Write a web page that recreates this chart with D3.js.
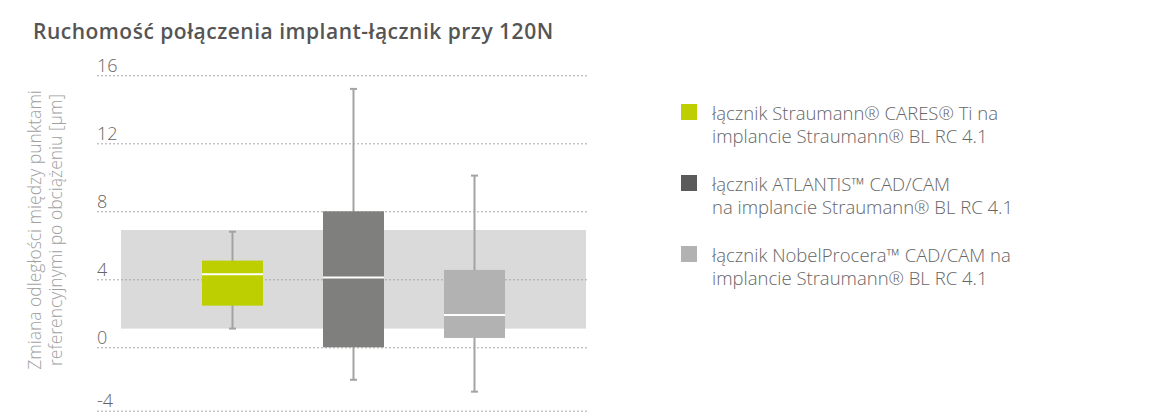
<!DOCTYPE html>
<html>
<head>
<meta charset="utf-8">
<script src="https://cdn.jsdelivr.net/npm/d3@7"></script>
<style>
  body { margin: 0; background: #fff; }
  text { font-family: "Open Sans", sans-serif; }
</style>
</head>
<body>
<div id="chart"></div>
<script>
// data
var categories = ['CARES', 'ATLANTIS', 'NobelProcera'];
var whiskerLow = [1.1, -2.05, -2.8];
var q1 = [2.45, 0, 0.55];
var median = [4.3, 4.1, 1.9];
var q3 = [5.1, 8.0, 4.55];
var whiskerHigh = [6.8, 15.2, 10.1];
var refBand = [1.1, 6.9];
var yTicks = [-4, 0, 4, 8, 12, 16];

var boxColors = ['#bdcf00', '#7f7f7e', '#b2b2b2'];
var legendColors = ['#bdcf00', '#5b5b5b', '#b2b2b2'];
var legendLines = [
    ['łącznik Straumann® CARES® Ti na', 'implancie Straumann® BL RC 4.1'],
    ['łącznik ATLANTIS™ CAD/CAM', 'na implancie Straumann® BL RC 4.1'],
    ['łącznik NobelProcera™ CAD/CAM na', 'implancie Straumann® BL RC 4.1']
];

var width_svg = 1176;
var height_svg = 416;

var svg = d3.select('#chart')
    .append('svg')
    .attr('width', width_svg)
    .attr('height', height_svg);

// scales
var y = d3.scaleLinear()
    .domain([-4, 0, 16])
    .range([410.7, 347.3, 75.3]);

var x = d3.scalePoint()
    .domain(categories)
    .range([232.5, 474.5]);

var gridLeft = 97, gridRight = 587;
var bandLeft = 121, bandRight = 586;
var boxWidth = 61;

// title
svg.append('text')
    .attr('x', 33)
    .attr('y', 39)
    .text('Ruchomość połączenia implant-łącznik przy 120N')
    .style('font-size', '21px')
    .style('letter-spacing', '0.5px')
    .style('font-weight', 600)
    .style('fill', '#555');

// y axis title
var yTitle = svg.append('text')
    .attr('transform', 'translate(41, 230) rotate(-90)')
    .attr('text-anchor', 'middle')
    .style('font-size', '17.5px')
    .style('font-weight', 300)
    .style('fill', '#a0a0a0');
yTitle.append('tspan').attr('x', 0).attr('y', 0).text('Zmiana odległości między punktami');
yTitle.append('tspan').attr('x', 0).attr('y', 21).text('referencyjnymi po obciążeniu [µm]');

// reference band
svg.append('rect')
    .attr('x', bandLeft)
    .attr('y', y(refBand[1]))
    .attr('width', bandRight - bandLeft)
    .attr('height', y(refBand[0]) - y(refBand[1]))
    .style('fill', '#dadada');

// gridlines + tick labels
var axis = d3.axisLeft(y)
    .tickValues(yTicks)
    .tickSize(-(gridRight - gridLeft))
    .tickFormat(d => String(d));

var gAxis = svg.append('g')
    .attr('transform', 'translate(' + gridLeft + ',0)')
    .call(axis);

gAxis.select('.domain').remove();
gAxis.selectAll('.tick line')
    .attr('stroke', '#a8a8a8')
    .attr('stroke-width', 1)
    .attr('stroke-dasharray', '2,2');
gAxis.selectAll('.tick text')
    .attr('x', 0)
    .attr('dy', -4)
    .attr('text-anchor', 'start')
    .style('font-size', '18px')
    .style('font-weight', 300)
    .style('fill', '#666');

// boxes
var idx = d3.range(categories.length);
var boxes = svg.append('g').selectAll('g')
    .data(idx)
    .join('g');

boxes.append('line')
    .attr('x1', i => x(categories[i]))
    .attr('x2', i => x(categories[i]))
    .attr('y1', i => y(whiskerLow[i]))
    .attr('y2', i => y(whiskerHigh[i]))
    .attr('stroke', '#a3a3a3')
    .attr('stroke-width', 2);

[whiskerLow, whiskerHigh].forEach(function (arr) {
    boxes.append('line')
        .attr('x1', i => x(categories[i]) - 3.5)
        .attr('x2', i => x(categories[i]) + 3.5)
        .attr('y1', i => y(arr[i]))
        .attr('y2', i => y(arr[i]))
        .attr('stroke', '#a3a3a3')
        .attr('stroke-width', 2);
});

boxes.append('rect')
    .attr('x', i => x(categories[i]) - boxWidth / 2)
    .attr('y', i => y(q3[i]))
    .attr('width', boxWidth)
    .attr('height', i => y(q1[i]) - y(q3[i]))
    .style('fill', i => boxColors[i]);

boxes.append('line')
    .attr('x1', i => x(categories[i]) - boxWidth / 2)
    .attr('x2', i => x(categories[i]) + boxWidth / 2)
    .attr('y1', i => y(median[i]))
    .attr('y2', i => y(median[i]))
    .attr('stroke', '#fff')
    .attr('stroke-width', 2);

// legend
var legend = svg.append('g').selectAll('g')
    .data(idx)
    .join('g')
    .attr('transform', i => 'translate(681,' + (120 + i * 71) + ')');

legend.append('rect')
    .attr('x', 0)
    .attr('y', -16)
    .attr('width', 16)
    .attr('height', 16)
    .style('fill', i => legendColors[i]);

var lt = legend.append('text')
    .style('font-size', '18.5px')
    .style('font-weight', 300)
    .style('fill', '#666');
lt.append('tspan').attr('x', 31).attr('y', 0).text(i => legendLines[i][0]);
lt.append('tspan').attr('x', 31).attr('y', 23).text(i => legendLines[i][1]);
</script>
</body>
</html>
